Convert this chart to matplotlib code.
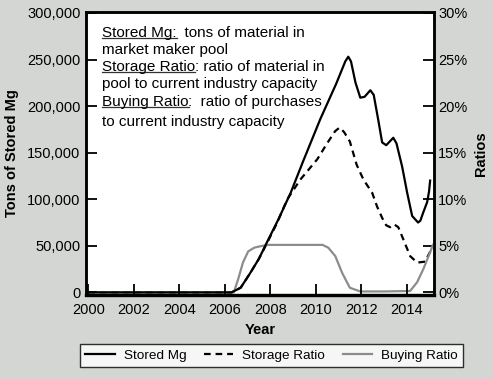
import matplotlib
matplotlib.use("Agg")
import matplotlib.pyplot as plt
from matplotlib.lines import Line2D
from matplotlib.ticker import FuncFormatter

plt.rcParams['font.family'] = ['Liberation Sans', 'DejaVu Sans']

# Stored Mg (tons), left axis
mg_years = [2000, 2006.3, 2006.7, 2007.1, 2007.5, 2007.9, 2008.35, 2008.9, 2009.45,
            2010.2, 2010.9, 2011.3, 2011.43, 2011.55, 2011.75, 2011.96, 2012.15,
            2012.4, 2012.55, 2012.75, 2012.92, 2013.1, 2013.41, 2013.55, 2013.8,
            2014.02, 2014.24, 2014.5, 2014.6, 2014.73, 2014.9, 2014.98, 2015.03]
mg_tons = [0, 0, 5000, 20000, 36000, 56000, 78000, 107000, 141000,
           186000, 224000, 248000, 253000, 248000, 225000, 209000, 210000,
           217000, 212000, 185000, 161000, 158000, 166000, 160000, 135000,
           107000, 82000, 75000, 77000, 86000, 97000, 108000, 120000]

# Storage Ratio (%), right axis
sr_years = [2000, 2006.3, 2006.7, 2007.1, 2007.5, 2007.9, 2008.31, 2008.75, 2009.32,
            2010.07, 2010.5, 2010.85, 2011.05, 2011.25, 2011.5, 2011.8, 2012.1,
            2012.48, 2012.7, 2012.92, 2013.1, 2013.27, 2013.45, 2013.63, 2013.85,
            2014.15, 2014.46, 2014.81, 2015.12]
sr_pct = [0, 0, 0.5, 2.0, 3.6, 5.5, 7.5, 10.0, 12.1,
          14.3, 16.0, 17.3, 17.7, 17.2, 16.2, 13.7, 12.1,
          10.7, 9.2, 8.0, 7.2, 7.0, 7.3, 7.0, 5.7,
          3.9, 3.2, 3.3, 4.8]

# Buying Ratio (%), right axis
br_years = [2000.2, 2006.4, 2006.6, 2006.8, 2007.03, 2007.3, 2007.56, 2007.9, 2010.3,
            2010.55, 2010.86, 2011.16, 2011.5, 2011.96, 2013.0, 2014.15, 2014.46,
            2014.73, 2015.03, 2015.15]
br_pct = [0, 0, 1.5, 3.2, 4.4, 4.8, 4.95, 5.1, 5.1,
          4.8, 3.9, 2.1, 0.5, 0.1, 0.1, 0.15, 1.1,
          2.5, 4.3, 5.1]

year_ticks = [2000, 2002, 2004, 2006, 2008, 2010, 2012, 2014]
mg_ticks = [0, 50000, 100000, 150000, 200000, 250000, 300000]
pct_ticks = [0, 5, 10, 15, 20, 25, 30]

notes = [("Stored Mg:", "  tons of material in"), (None, "market maker pool"),
         ("Storage Ratio", ": ratio of material in"), (None, "pool to current industry capacity"),
         ("Buying Ratio", ":  ratio of purchases"), (None, "to current industry capacity")]

bg = '#d4d6d4'
fig = plt.figure(figsize=(4.93, 3.79), dpi=100, facecolor=bg)
ax = fig.add_axes([86/493, 1 - 295/379, (434-86)/493, (295-12)/379])
ax2 = ax.twinx()

l1, = ax.plot(mg_years, mg_tons, color='black', lw=1.6, label='Stored Mg', zorder=3)
l2, = ax2.plot(sr_years, sr_pct, color='black', lw=1.6, ls=(0, (3, 2.2)), label='Storage Ratio', zorder=3)
l3, = ax2.plot(br_years, br_pct, color='#8c8c8c', lw=1.6, label='Buying Ratio', zorder=4)

ax.set_xlim(1999.9, 2015.2)
ax.set_ylim(-2800, 301000)
ax2.set_ylim(-0.28, 30.1)
ax.set_xticks(year_ticks)
ax.set_yticks(mg_ticks)
ax2.set_yticks(pct_ticks)
ax.yaxis.set_major_formatter(FuncFormatter(lambda v, p: f"{int(v):,}"))
ax2.yaxis.set_major_formatter(FuncFormatter(lambda v, p: f"{int(v)}%"))

ax.tick_params(axis='both', direction='in', length=8, width=1.3, labelsize=10.5, pad=4)
ax.tick_params(axis='x', pad=6)
ax2.tick_params(axis='y', direction='in', length=8, width=1.3, labelsize=10.5, pad=3)
for a in (ax, ax2):
    for s in a.spines.values():
        s.set_linewidth(1.8)
    a.spines['bottom'].set_linewidth(2.3)
ax.set_zorder(ax2.get_zorder() + 1)
ax.patch.set_visible(False)
ax2.patch.set_facecolor('white')
ax2.patch.set_visible(True)

ax.set_ylabel("Tons of Stored Mg", fontsize=10.5, fontweight='bold', labelpad=6)
ax2.set_ylabel("Ratios", fontsize=10.5, fontweight='bold', labelpad=5)
ax.set_xlabel("Year", fontsize=10.5, fontweight='bold', labelpad=4)

# description text with underlined terms
line_y = [33, 50, 67, 84, 102, 122]
heads = []
for (head, rest), yp in zip(notes, line_y):
    yf = 1 - yp / 379
    if head:
        t = fig.text(102/493, yf, head, fontsize=11, va='center', zorder=5)
        heads.append(t)
        ax.annotate(rest, xy=(1, 0), xycoords=t, va='bottom', ha='left', fontsize=11,
                    annotation_clip=False)
    else:
        fig.text(102/493, yf, rest, fontsize=11, va='center', zorder=5)

fig.canvas.draw()
r = fig.canvas.get_renderer()
inv = fig.transFigure.inverted()
for t in heads:
    bb = t.get_window_extent(r)
    (x0, y0), (x1, _) = inv.transform([(bb.x0, bb.y0 + 2.5), (bb.x1, bb.y0)])
    fig.add_artist(Line2D([x0, x1], [y0, y0], color='#333333', lw=0.9, transform=fig.transFigure))

leg = fig.legend(handles=[l1, l2, l3], loc='center', bbox_to_anchor=(271.5/493, 1 - 355.5/379),
                 ncol=3, fontsize=9.7, frameon=True, fancybox=False, handlelength=2.2,
                 handletextpad=0.65, columnspacing=1.3, borderpad=0.4, borderaxespad=0)
leg.get_frame().set_edgecolor('black')
leg.get_frame().set_linewidth(1.0)

fig.savefig("out.png", dpi=100, facecolor=bg)
